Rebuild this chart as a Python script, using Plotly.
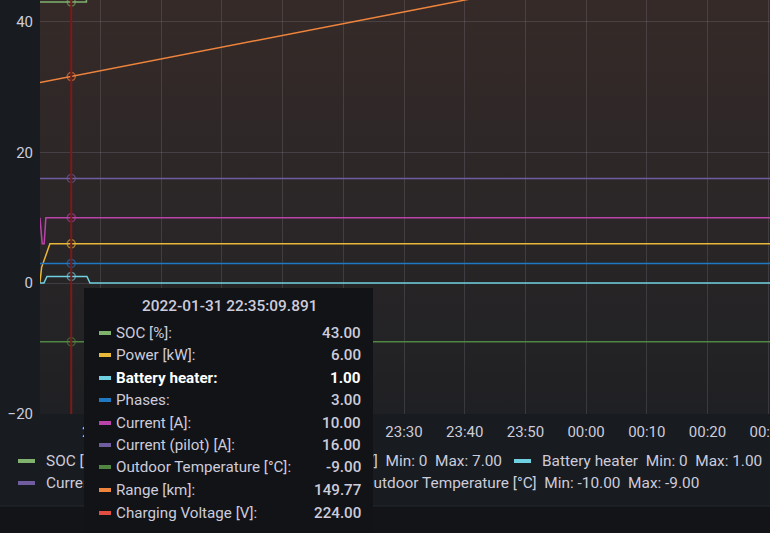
import base64
import plotly.graph_objects as go

# ---------------- data ----------------
DAY = "2022-01-31"
NEXT_DAY = "2022-02-01"
X_START = "22:30:01"
X_END = "00:30:18"
HOVER_T = "22:35:09.891"

soc_t = ["22:30:00", "22:37:40", "22:45:10", "22:52:45", "23:00:15", "23:07:50", "23:15:20",
         "23:22:55", "23:30:25", "23:38:00", "23:45:30", "23:53:05", "00:00:35", "00:08:10",
         "00:15:40", "00:23:15", "00:30:18"]
soc_v = [43, 44, 45, 46, 47, 48, 49, 50, 51, 52, 53, 54, 55, 56, 57, 58, 58]

power_t = ["22:30:00", "22:30:17", "22:31:39", "00:30:18"]
power_v = [0, 2.4, 6, 6]

heater_t = ["22:30:00", "22:30:40", "22:31:10", "22:37:45", "22:38:15", "00:30:18"]
heater_v = [0, 0, 1, 1, 0, 0]

phases_t = ["22:30:00", "00:30:18"]
phases_v = [3, 3]

current_t = ["22:30:00", "22:30:23", "22:30:42", "22:30:59", "00:30:18"]
current_v = [10, 6, 6, 10, 10]

pilot_t = ["22:30:00", "00:30:18"]
pilot_v = [16, 16]

temp_t = ["22:30:00", "00:30:18"]
temp_v = [-9, -9]

range_t = ["22:30:00", "22:35:09.891", "22:40:00", "22:45:00", "22:50:00", "22:55:00", "23:00:00",
           "23:05:00", "23:10:00", "23:15:00", "23:20:00", "23:25:00", "23:30:00", "23:35:00",
           "23:40:00", "23:50:00", "00:00:00", "00:10:00", "00:20:00", "00:30:00"]
range_v = [147.0, 149.77, 152.4, 155.1, 157.8, 160.6, 163.3, 166.0, 168.7, 171.4, 174.1, 176.8,
           179.5, 182.2, 184.9, 190.4, 195.8, 201.2, 206.6, 212.0]

voltage_t = ["22:30:00", "22:35:09.891", "00:30:18"]
voltage_v = [224, 224, 224]

series_names = ["SOC [%]", "Power [kW]", "Battery heater", "Phases", "Current [A]",
                "Current (pilot) [A]", "Outdoor Temperature [°C]", "Range [km]",
                "Charging Voltage [V]"]
series_colors = ["#7EB26D", "#EAB839", "#6ED0E0", "#1F78C1", "#BA43A9",
                 "#705DA0", "#508642", "#EF843C", "#E24D42"]
hover_values = [43.00, 6.00, 1.00, 3.00, 10.00, 16.00, -9.00, 149.77, 224.00]

legend_row1 = ["SOC [%]  Min: 43.00  Max: 58.00", "Power [kW]  Min: 0  Max: 7.00",
               "Battery heater  Min: 0  Max: 1.00"]
legend_row1_colors = ["#7EB26D", "#EAB839", "#6ED0E0"]
legend_row2 = ["Current (pilot) [A]  Min: 0  Max: 16.00",
               "Outdoor Temperature [°C]  Min: -10.00  Max: -9.00"]
legend_row2_colors = ["#705DA0", "#508642"]

Y_RANGE = [-20.05, 43.32]
Y2_RANGE = [-5.2, 184.93]


def ts(hms):
    day = NEXT_DAY if int(hms[:2]) < 12 else DAY
    return f"{day} {hms}"


def tsl(lst):
    return [ts(h) for h in lst]


# ---------------- layout geometry ----------------
W, H = 770, 533
PL, PR, PT, PB = 40, 770, 0, 414
FONT = "Roboto"
TXT = "#ccccdc"


def px(x):
    return (x - PL) / (PR - PL)


def py(y):
    return (PB - y) / (PB - PT)


fig = go.Figure()

all_series = [
    (soc_t, soc_v, "y", "hv"),
    (power_t, power_v, "y", "linear"),
    (heater_t, heater_v, "y", "linear"),
    (phases_t, phases_v, "y", "linear"),
    (current_t, current_v, "y", "linear"),
    (pilot_t, pilot_v, "y", "linear"),
    (temp_t, temp_v, "y", "linear"),
    (range_t, range_v, "y2", "linear"),
    (voltage_t, voltage_v, "y2", "linear"),
]

for i, (t, v, ax, shape) in enumerate(all_series):
    fig.add_trace(go.Scatter(
        x=tsl(t), y=v, yaxis=ax, mode="lines", name=series_names[i],
        line=dict(color=series_colors[i], width=1.5, shape=shape),
        showlegend=False, hoverinfo="skip"))

# hover point markers
for i, (t, v, ax, shape) in enumerate(all_series):
    fig.add_trace(go.Scatter(
        x=[ts(HOVER_T)], y=[hover_values[i]], yaxis=ax, mode="markers",
        marker=dict(symbol="circle-open", size=8, color=series_colors[i],
                    line=dict(width=1.5, color=series_colors[i])),
        opacity=0.6, showlegend=False, hoverinfo="skip"))

# background gradient
svg = ('<svg xmlns="http://www.w3.org/2000/svg" width="10" height="100" preserveAspectRatio="none">'
       '<defs><linearGradient id="g" x1="0" y1="0" x2="0" y2="1">'
       '<stop offset="0" stop-color="#352a28"/><stop offset="0.55" stop-color="#2a2627"/>'
       '<stop offset="1" stop-color="#1f2023"/></linearGradient></defs>'
       '<rect width="10" height="100" fill="url(#g)"/></svg>')
src = "data:image/svg+xml;base64," + base64.b64encode(svg.encode()).decode()

shapes = [
    dict(type="rect", xref="paper", yref="paper", x0=px(0), x1=px(770), y0=py(533), y1=py(506),
         fillcolor="#131418", line=dict(width=0), layer="below"),
    dict(type="line", xref="paper", yref="paper", x0=px(0), x1=px(770), y0=py(506), y1=py(506),
         line=dict(color="#25282d", width=1), layer="below"),
    dict(type="line", xref="x", yref="paper", x0=ts(HOVER_T), x1=ts(HOVER_T), y0=0, y1=1,
         line=dict(color="#7c1a1a", width=2), layer="above"),
]

annotations = []


def swatch(xl, yc, w, h, color):
    annotations.append(dict(xref="paper", yref="paper", x=px(xl), y=py(yc), xanchor="left",
                            yanchor="middle", text=" ", width=w, height=h, bgcolor=color,
                            borderpad=0, borderwidth=0, showarrow=False, font=dict(size=1)))


def label(xp, yc, text, anchor="left", color=TXT, weight=400, size=15):
    annotations.append(dict(xref="paper", yref="paper", x=px(xp), y=py(yc), xanchor=anchor,
                            yanchor="middle", text=text, showarrow=False, borderpad=0,
                            font=dict(family=FONT, size=size, color=color, weight=weight)))


# legend
row1_x = [18, 273, 514]
for x0, txt, c in zip(row1_x, legend_row1, legend_row1_colors):
    swatch(x0, 461, 17, 4, c)
    label(x0 + 27, 461, txt, size=15.4)
row2_x = [18, 335]
for x0, txt, c in zip(row2_x, legend_row2, legend_row2_colors):
    swatch(x0, 483, 17, 4, c)
    label(x0 + 27, 483, txt, size=15.4)

# tooltip
annotations.append(dict(xref="paper", yref="paper", x=px(84), y=py(288), xanchor="left",
                        yanchor="top", text=" ", width=289, height=260, bgcolor="#121316",
                        borderpad=0, borderwidth=0, showarrow=False, font=dict(size=1)))
label(229, 305.5, f"{DAY} {HOVER_T}", anchor="center", weight=500, size=15.4)
row_y0, row_dy = 332.5, 22.5
for i, name in enumerate(series_names):
    yc = row_y0 + i * row_dy
    bold = name == "Battery heater"
    swatch(99, yc, 12, 4, series_colors[i])
    label(115, yc, name + ":", color="#ffffff" if bold else TXT, weight=700 if bold else 400,
          size=15.2)
    label(362, yc, f"{hover_values[i]:.2f}", anchor="right",
          color="#ffffff" if bold else TXT, weight=700 if bold else 500, size=15.2)

grid = "rgba(204,204,220,0.15)"
fig.update_layout(
    width=W, height=H, autosize=False,
    margin=dict(l=PL, r=W - PR, t=PT, b=H - PB, pad=0, autoexpand=False),
    paper_bgcolor="#181b1f", plot_bgcolor="rgba(0,0,0,0)",
    font=dict(family=FONT, size=15, color=TXT),
    showlegend=False,
    xaxis=dict(type="date", range=[ts(X_START), ts(X_END)], tick0=ts("22:30:00"), dtick=600000,
               tickformat="%H:%M", showgrid=True, gridcolor=grid, gridwidth=1, zeroline=False,
               showline=False, ticks="", ticklabeloverflow="allow", ticklabelstandoff=7,
               automargin=False, tickfont=dict(family=FONT, size=15, color=TXT)),
    yaxis=dict(range=Y_RANGE, tick0=0, dtick=20, showgrid=True, gridcolor=grid, zeroline=False,
               showline=False, ticks="", ticklabelstandoff=6, automargin=False,
               tickfont=dict(family=FONT, size=15, color=TXT)),
    yaxis2=dict(range=Y2_RANGE, overlaying="y", side="right", showgrid=False, zeroline=False,
                showticklabels=False, ticks="", showline=False, automargin=False),
    images=[dict(source=src, xref="paper", yref="paper", x=0, y=1, sizex=1, sizey=1,
                 sizing="stretch", layer="below", xanchor="left", yanchor="top")],
    shapes=shapes,
    annotations=annotations,
)

fig.write_html("out.html", config={"displayModeBar": False, "responsive": False},
               post_script="document.body.style.margin='0';document.body.style.background='#181b1f';")
